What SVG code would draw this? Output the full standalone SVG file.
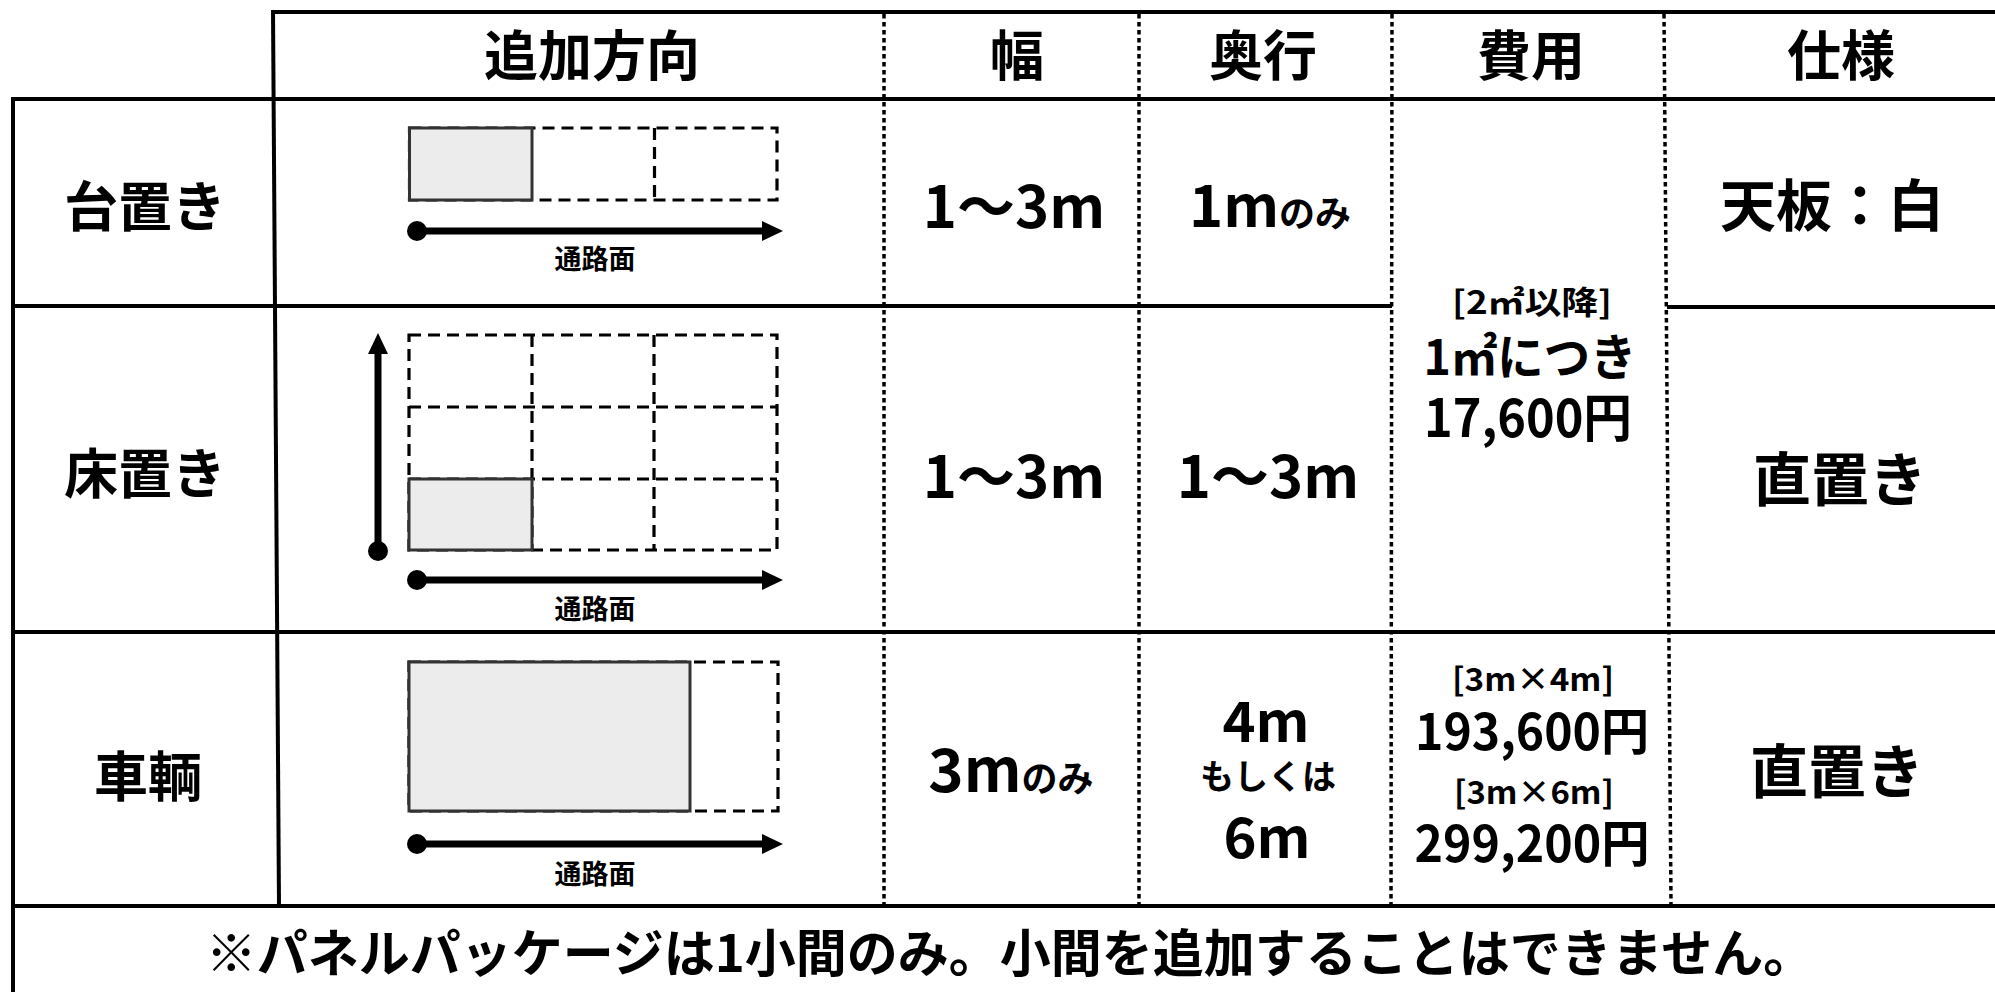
<svg xmlns="http://www.w3.org/2000/svg" width="1995" height="992" viewBox="0 0 1995 992">
<style>
.solid{stroke:#000;stroke-width:4;fill:none}
.dotl{stroke:#000;stroke-width:3.5;stroke-dasharray:4.5 3.5;fill:none}
.dash{fill:none;stroke:#000;stroke-width:3.2;stroke-dasharray:12 7}
.cell{fill:#ececec;stroke:#333;stroke-width:3}
.arr{stroke:#000;stroke-width:7;fill:none}
text{font-family:"Noto Sans CJK JP","Noto Sans",sans-serif;fill:#000;text-anchor:middle}
.h{font-size:54px;font-weight:700}
.lab{font-size:54px;font-weight:700}
.v{font-size:58px;font-weight:700}
.s{font-size:36px;font-weight:700}
.c{font-weight:700}
.small{font-size:27px;font-weight:700}
</style>
<defs>
<marker id="ah" markerUnits="userSpaceOnUse" markerWidth="22" markerHeight="22" refX="2" refY="11" orient="auto"><path d="M0,1 L21,11 L0,21 z" fill="#000"/></marker>
<marker id="dotm" markerUnits="userSpaceOnUse" markerWidth="22" markerHeight="22" refX="11" refY="11"><circle cx="11" cy="11" r="10" fill="#000"/></marker>
</defs>
<rect width="1995" height="992" fill="#fff"/>
<g id="grid">
<line class="solid" x1="273" y1="12" x2="1995" y2="12"/>
<line class="solid" x1="11" y1="99" x2="1995" y2="99"/>
<line class="solid" x1="13" y1="97" x2="13" y2="992"/>
<line class="solid" x1="273" y1="10" x2="279" y2="906"/>
<line class="solid" x1="13" y1="306" x2="1392" y2="306"/>
<line class="solid" x1="1667" y1="307" x2="1995" y2="307"/>
<line class="solid" x1="13" y1="632" x2="1995" y2="632"/>
<line class="solid" x1="13" y1="906" x2="1995" y2="906"/>
<line class="dotl" x1="884" y1="14" x2="884" y2="904"/>
<line class="dotl" x1="1139" y1="14" x2="1139" y2="904"/>
<line class="dotl" x1="1392" y1="14" x2="1391" y2="904"/>
<line class="dotl" x1="1664" y1="14" x2="1671" y2="904"/>
</g>
<g id="header">
<text class="h" x="592" y="76">追加方向</text>
<text class="h" x="1017" y="76">幅</text>
<text class="h" x="1263" y="76">奥行</text>
<text class="h" x="1531" y="76">費用</text>
<text class="h" x="1841" y="76">仕様</text>
</g>
<g id="row-dai">
<text class="lab" x="145" y="227">台置き</text>
<rect class="dash" x="409.5" y="128" width="367.5" height="72"/>
<line class="dash" x1="654.5" y1="128" x2="654.5" y2="200"/>
<rect class="cell" x="409.5" y="128" width="122.5" height="72"/>
<text class="small" x="595" y="269">通路面</text>
<text class="v" x="1014" y="228">1〜3m</text>
<text x="1270" y="227"><tspan class="v">1m</tspan><tspan class="s">のみ</tspan></text>
<text class="h" x="1832" y="226" style="font-size:56px">天板：白</text>
</g>
<g id="cost-merged">
<text class="c" x="1532" y="314" style="font-size:32px" textLength="160" lengthAdjust="spacingAndGlyphs">[2㎡以降]</text>
<text class="c" x="1530" y="375" style="font-size:49px" textLength="213" lengthAdjust="spacingAndGlyphs">1㎡につき</text>
<text class="c" x="1528" y="437" style="font-size:52px" textLength="208" lengthAdjust="spacingAndGlyphs">17,600円</text>
</g>
<g id="row-yuka">
<text class="lab" x="145" y="494">床置き</text>
<rect class="dash" x="409" y="335" width="368" height="215"/>
<line class="dash" x1="532" y1="335" x2="532" y2="550"/>
<line class="dash" x1="654" y1="335" x2="654" y2="550"/>
<line class="dash" x1="409" y1="407" x2="777" y2="407"/>
<line class="dash" x1="409" y1="479" x2="777" y2="479"/>
<rect class="cell" x="409" y="479" width="123" height="71"/>
<text class="small" x="595" y="619">通路面</text>
<text class="v" x="1014" y="498">1〜3m</text>
<text class="v" x="1268" y="498">1〜3m</text>
<text class="lab" x="1840" y="501" style="font-size:58px">直置き</text>
</g>
<g id="row-sharyo">
<text class="lab" x="148" y="797">車輌</text>
<rect class="dash" x="409" y="662" width="369" height="149"/>
<rect class="cell" x="409" y="662" width="281" height="149"/>
<text class="small" x="595" y="884">通路面</text>
<text x="1011" y="792"><tspan class="v" style="font-size:60px">3m</tspan><tspan class="s">のみ</tspan></text>
<text class="v" x="1266" y="742" style="font-size:56px">4m</text>
<text x="1268" y="789" style="font-size:34px;font-weight:700">もしくは</text>
<text class="v" x="1267" y="858" style="font-size:56px">6m</text>
<text class="c" x="1533" y="691" style="font-size:32px" textLength="162" lengthAdjust="spacingAndGlyphs">[3m×4m]</text>
<text class="c" x="1532" y="750" style="font-size:50px" textLength="234" lengthAdjust="spacingAndGlyphs">193,600円</text>
<text class="c" x="1534" y="804" style="font-size:32px" textLength="160" lengthAdjust="spacingAndGlyphs">[3m×6m]</text>
<text class="c" x="1532" y="862" style="font-size:50px" textLength="235" lengthAdjust="spacingAndGlyphs">299,200円</text>
<text class="lab" x="1837" y="793" style="font-size:58px">直置き</text>
</g>
<g id="footer">
<text x="1010" y="972" style="font-size:51px;font-weight:700">※パネルパッケージは1小間のみ。小間を追加することはできません。</text>
</g>
<g id="connectors">
<line class="arr" x1="417" y1="231" x2="764" y2="231" marker-start="url(#dotm)" marker-end="url(#ah)"/>
<line class="arr" x1="378" y1="551" x2="378" y2="352" marker-start="url(#dotm)" marker-end="url(#ah)"/>
<line class="arr" x1="417" y1="580" x2="764" y2="580" marker-start="url(#dotm)" marker-end="url(#ah)"/>
<line class="arr" x1="417" y1="844" x2="764" y2="844" marker-start="url(#dotm)" marker-end="url(#ah)"/>
</g>
</svg>
